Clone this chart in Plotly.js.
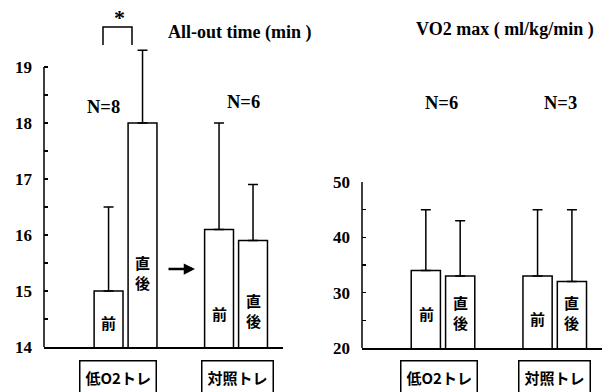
<!DOCTYPE html>
<html>
<head>
<meta charset="utf-8">
<script src="https://cdn.plot.ly/plotly-3.0.1.min.js"></script>
<style>html,body{margin:0;padding:0;background:#fff;}#chart{width:602px;height:392px;}</style>
</head>
<body>
<div id="chart"></div>
<script>
// ---- data ----
const groups = ['低O2トレ', '対照トレ'];
const phases = ['前', '直後'];

const alloutTitle = 'All-out time (min )';
const alloutPre = [15.0, 16.1];
const alloutPost = [18.0, 15.9];
const alloutPreSD = [1.5, 1.9];
const alloutPostSD = [1.3, 1.0];
const alloutN = ['N=8', 'N=6'];
const alloutTicks = [14, 15, 16, 17, 18, 19];

const vo2Title = 'VO2 max ( ml/kg/min )';
const vo2Pre = [34, 33];
const vo2Post = [33, 32];
const vo2PreSD = [11, 12];
const vo2PostSD = [10, 13];
const vo2N = ['N=6', 'N=3'];
const vo2Ticks = [20, 30, 40, 50];

const significance = '*';

// ---- helpers ----
const W = 602, H = 392;
const px = x => x / W;
const py = y => 1 - y / H;
const serif = 'Liberation Serif';
const cjk = 'Noto Sans CJK JP';

function barTrace(vals, sd, xa, ya, name) {
  return {
    type: 'bar', x: groups, y: vals, name: name,
    xaxis: xa, yaxis: ya,
    marker: {color: '#ffffff', line: {color: '#000000', width: 1.5}},
    error_y: {type: 'data', symmetric: false, array: sd, arrayminus: sd.map(() => 0),
              color: '#000000', thickness: 1.5, width: 5},
    cliponaxis: false, hoverinfo: 'none'
  };
}

const data = [
  barTrace(alloutPre, alloutPreSD, 'x', 'y', phases[0]),
  barTrace(alloutPost, alloutPostSD, 'x', 'y', phases[1]),
  barTrace(vo2Pre, vo2PreSD, 'x2', 'y2', phases[0]),
  barTrace(vo2Post, vo2PostSD, 'x2', 'y2', phases[1])
];

// y axes: the range reaches a little above the top tick so error bars are not clipped;
// the visible axis line is drawn as a shape from the first to the last tick.
function yAxis(domain, ticks, headroom, minorStep, anchor) {
  return {
    domain: domain, range: [ticks[0], ticks[ticks.length - 1] + headroom],
    tickvals: ticks, ticktext: ticks.map(String),
    ticks: 'inside', ticklen: 4, tickwidth: 1.5, tickcolor: '#000',
    minor: {dtick: minorStep, tick0: ticks[0], ticks: 'inside', ticklen: 4, tickwidth: 1.5, tickcolor: '#000', showgrid: false},
    showline: false,
    showgrid: false, zeroline: false, anchor: anchor,
    ticklabelstandoff: 11,
    tickfont: {family: serif, size: 17, color: '#000', weight: 'bold'},
    fixedrange: true
  };
}
function xAxis(domain, range, anchor) {
  return {
    domain: domain, range: range, type: 'category',
    showline: true, linecolor: '#000', linewidth: 1.5,
    ticks: '', showticklabels: false, showgrid: false, zeroline: false,
    anchor: anchor, fixedrange: true
  };
}

const annotations = [];
function txt(text, x, y, size, fam, extra) {
  annotations.push(Object.assign({
    text: text, x: x, y: y, xref: 'paper', yref: 'paper', showarrow: false,
    xanchor: 'center', yanchor: 'middle',
    font: {family: fam, size: size, color: '#000', weight: 'bold'}
  }, extra || {}));
}
// titles
txt(alloutTitle, px(166), py(33), 18, serif, {xanchor: 'left'});
txt(vo2Title, px(414), py(29), 18, serif, {xanchor: 'left'});
// N labels
txt(alloutN[0], px(103), py(107), 18.5, serif);
txt(alloutN[1], px(243), py(102), 18.5, serif);
txt(vo2N[0], px(441), py(103), 18.5, serif);
txt(vo2N[1], px(560), py(103), 18.5, serif);
// significance star
txt(significance, px(119), py(17), 22, serif);

// in-bar phase labels (vertical text)
const vert = s => s.split('').join('<br>');
const barLabelY = {x: [[322, 272], [313, 310]], x2: [[313, 312], [318, 312]]};
['x', 'x2'].forEach(xa => {
  groups.forEach((g, gi) => {
    phases.forEach((p, pi) => {
      annotations.push({
        text: vert(p), xref: xa, x: gi, xshift: pi === 0 ? -17 : 17,
        yref: 'paper', y: py(barLabelY[xa][gi][pi]), showarrow: false,
        xanchor: 'center', yanchor: 'middle',
        font: {family: cjk, size: 15, color: '#000', weight: 'bold'}
      });
    });
  });
});
// boxed group labels below axes
const boxShift = {x: [-8, 1], x2: [-4, 0]};
['x', 'x2'].forEach(xa => {
  groups.forEach((g, gi) => {
    annotations.push({
      text: g, xref: xa, x: gi, xshift: boxShift[xa][gi],
      yref: 'paper', y: py(377), showarrow: false,
      xanchor: 'center', yanchor: 'middle',
      bordercolor: '#000', borderwidth: 1.5, borderpad: 5, bgcolor: '#fff',
      font: {family: cjk, size: 15, color: '#000', weight: 'bold'}
    });
  });
});
// arrow between groups (left panel)
annotations.push({
  x: px(195), y: py(269), xref: 'paper', yref: 'paper', text: '',
  showarrow: true, ax: -28, ay: 0, arrowhead: 2, arrowsize: 0.9,
  arrowwidth: 2.5, arrowcolor: '#000'
});

const shapes = [
  {type: 'path', xref: 'paper', yref: 'paper',
   path: `M ${px(103)} ${py(45)} L ${px(103)} ${py(27)} L ${px(132)} ${py(27)} L ${px(132)} ${py(45)}`,
   line: {color: '#000', width: 1.5}},
  {type: 'line', xref: 'paper', yref: 'y', x0: px(44), x1: px(44),
   y0: alloutTicks[0], y1: alloutTicks[alloutTicks.length - 1], line: {color: '#000', width: 1.5}},
  {type: 'line', xref: 'paper', yref: 'y2', x0: px(362), x1: px(362),
   y0: vo2Ticks[0], y1: vo2Ticks[vo2Ticks.length - 1], line: {color: '#000', width: 1.5}}
];

// left: 14 at y=347, 19 at y=67 (56 px per unit) -> 19.5 at y=39
// right: 20 at y=348, 50 at y=182
const layout = {
  width: W, height: H,
  margin: {l: 0, r: 0, t: 0, b: 0},
  paper_bgcolor: '#fff', plot_bgcolor: '#fff',
  showlegend: false, barmode: 'group',
  bargap: 0.385, bargroupgap: 0.15,
  xaxis: xAxis([px(44), px(283)], [-0.738, 1.425], 'y'),
  yaxis: yAxis([py(347), py(39)], alloutTicks, 0.5, 0.5, 'x'),
  xaxis2: xAxis([px(362), 1], [-0.725, 1.423], 'y2'),
  yaxis2: yAxis([py(348), py(182)], vo2Ticks, 0, 5, 'x2'),
  annotations: annotations,
  shapes: shapes
};

Plotly.newPlot('chart', data, layout, {displayModeBar: false, staticPlot: true});
</script>
</body>
</html>
